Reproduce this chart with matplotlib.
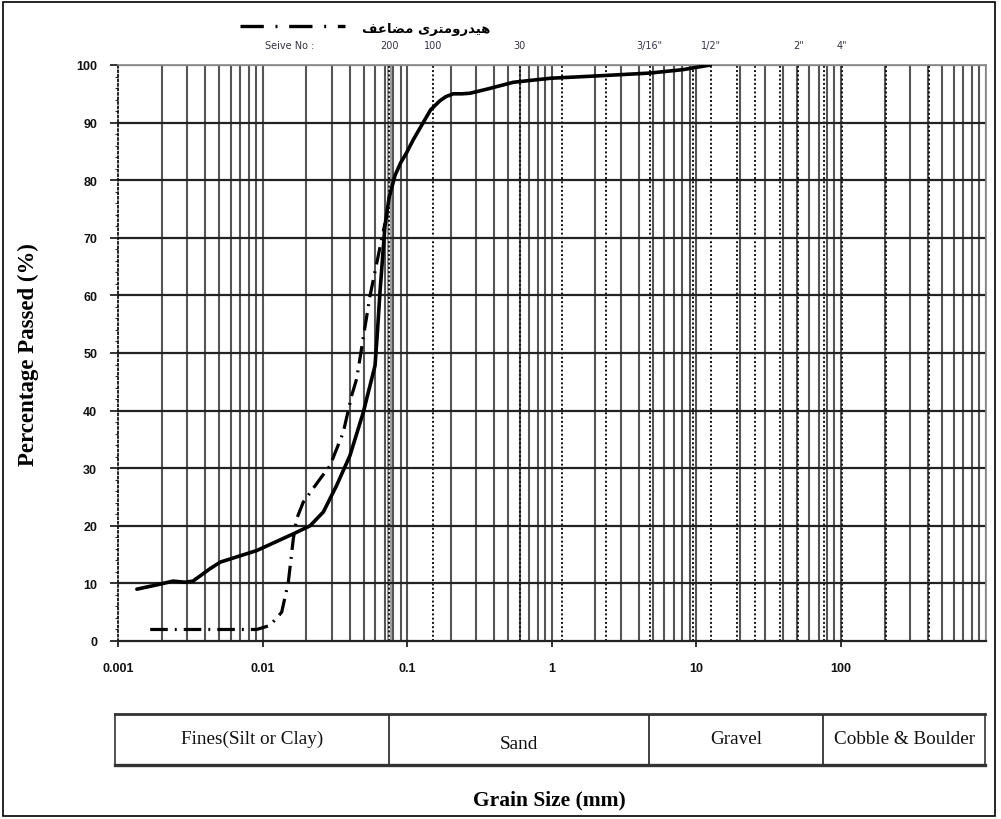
import numpy as np
import matplotlib
matplotlib.use("Agg")
import matplotlib.pyplot as plt
from matplotlib.patches import Rectangle
from matplotlib.lines import Line2D
from matplotlib.ticker import FixedLocator, NullFormatter, MultipleLocator

# --- data -------------------------------------------------------------
# combined sieve + hydrometer curve (grain size mm, percent passing)
grain_size = [0.00135, 0.0019, 0.0024, 0.0029, 0.0033, 0.0043, 0.0051, 0.0091,
              0.0163, 0.0213, 0.0263, 0.0325, 0.0402, 0.0497, 0.0568, 0.0599,
              0.062, 0.0648, 0.0702, 0.075, 0.0823, 0.09, 0.0992, 0.11, 0.129,
              0.145, 0.1685, 0.185, 0.208, 0.24, 0.272, 0.355, 0.542, 0.98,
              2.04, 4.77, 8.1, 12.5]
percent_passed = [9.0, 9.8, 10.4, 10.2, 10.4, 12.5, 13.7, 15.7,
                  18.6, 20.0, 22.4, 27.0, 32.2, 39.7, 45.5, 47.8,
                  53.0, 60.5, 72.1, 77.0, 80.8, 83.0, 84.8, 87.0, 90.0,
                  92.2, 93.8, 94.5, 95.0, 95.0, 95.1, 95.8, 97.0, 97.7,
                  98.1, 98.6, 99.2, 100.0]

# double hydrometer curve
hydro_size = [0.00167, 0.0091, 0.01125, 0.01355, 0.01506, 0.0163, 0.0172,
              0.0191, 0.0249, 0.0292, 0.0361, 0.0413, 0.0447, 0.0553,
              0.0666, 0.0702]
hydro_passed = [2.0, 2.0, 2.7, 5.0, 10.2, 17.7, 21.2,
                24.1, 28.1, 30.4, 36.2, 42.6, 45.5, 59.9,
                69.8, 72.5]

# standard sieve openings (mm) drawn as dotted lines
sieve_openings = [0.075, 0.15, 0.6, 1.18, 2.36, 4.75, 9.5, 12.7, 19.0, 25.4,
                  38.1, 50.8, 76.2, 101.6, 203.2, 406.4]
sieve_labels = ["200", "100", "30", '3/16"', '1/2"', '2"', '4"']
sieve_label_pos = [0.075, 0.15, 0.6, 4.75, 12.7, 50.8, 101.6]

x_ticks = [0.001, 0.01, 0.1, 1, 10, 100]
x_tick_labels = ["0.001", "0.01", "0.1", "1", "10", "100"]
y_ticks = list(range(0, 101, 10))

soil_classes = ["Fines(Silt or Clay)", "Sand", "Gravel", "Cobble & Boulder"]
class_bounds = [0.00095, 0.075, 4.75, 76.2, 1000]

# Persian caption written with presentation forms in display order,
# since matplotlib performs no Arabic shaping
legend_label = "\ufed2\ufecb\ufe8e\ufec0\ufee3 \ufeef\ufeae\ufe98\ufee3\ufeed\ufead\ufeaa\ufef4\ufeeb"

# --- figure -----------------------------------------------------------
W, H = 1001, 820
fig = plt.figure(figsize=(W / 100, H / 100), dpi=100)
fig.patch.set_facecolor("white")


def fx(px):
    return px / W


def fy(py):
    return 1 - py / H


ax = fig.add_axes([fx(118), fy(642), fx(985.6) - fx(118), fy(66) - fy(642)])
ax.set_xscale("log")
ax.set_xlim(0.001, 1000)
ax.set_ylim(0, 100)

# vertical grid: every 1..9 x 10^k
grid_x = [n * 10.0 ** k for k in range(-3, 3) for n in range(1, 10)] + [1000]
for gx in grid_x[1:]:
    ax.axvline(gx, color="#555555", lw=1.5, zorder=1)
for sx in sieve_openings:
    ax.axvline(sx, color="#111111", lw=1.4, ls=(0, (1.0, 1.2)), zorder=2)
ax.axvline(0.074, color="#9a9a9a", lw=1.4, zorder=1)
ax.axvline(0.077, color="#9a9a9a", lw=1.4, zorder=1)

for gy in range(10, 100, 10):
    ax.axhline(gy, color="#222222", lw=1.6, zorder=2)
ax.axhline(100, color="#777777", lw=1.6, zorder=2)

# curves
ax.plot(hydro_size, hydro_passed, color="black", lw=2.3,
        ls=(0, (5.5, 2.2, 0.6, 2.2)), zorder=5, solid_capstyle="round")
ax.plot(grain_size, percent_passed, color="black", lw=2.6, zorder=6,
        solid_capstyle="round", solid_joinstyle="round")

# axes styling
for side in ["top", "right"]:
    ax.spines[side].set_color("#888888")
    ax.spines[side].set_linewidth(1.2)
ax.spines["bottom"].set_color("#222222")
ax.spines["bottom"].set_linewidth(1.6)
ax.spines["left"].set_linestyle((0, (1, 1.5)))
ax.spines["left"].set_linewidth(1.3)
ax.spines["left"].set_color("#111111")

ax.xaxis.set_major_locator(FixedLocator(x_ticks))
ax.set_xticklabels(x_tick_labels)
ax.xaxis.set_minor_locator(FixedLocator([]))
ax.xaxis.set_minor_formatter(NullFormatter())
ax.set_yticks(y_ticks)
ax.yaxis.set_minor_locator(MultipleLocator(2))
ax.tick_params(axis="x", which="major", length=4, width=1.2, pad=11,
               labelsize=9, colors="#111111")
ax.tick_params(axis="y", which="major", length=6, width=1.2, pad=9,
               labelsize=9, colors="#111111")
ax.tick_params(axis="y", which="minor", length=2, width=0.8, colors="#333333")
for lab in ax.get_xticklabels() + ax.get_yticklabels():
    lab.set_fontweight("bold")
    lab.set_family("Liberation Sans")

fig.text(fx(28), fy(355), "Percentage Passed (%)", family="Liberation Serif",
         fontweight="bold", fontsize=16.5, rotation=90, ha="center", va="center")

# sieve numbers along the top
trans_top = ax.get_xaxis_transform()
fig.text(fx(290), fy(46), "Seive No :", fontsize=7, color="#333344",
         family="Liberation Sans Narrow", ha="center", va="center")
for lab, pos in zip(sieve_labels, sieve_label_pos):
    ax.text(pos, 1.034, lab, transform=trans_top, fontsize=7, color="#333344",
            family="Liberation Sans Narrow", ha="center", va="center")

# legend entry at the top
fig.add_artist(Line2D([fx(240), fx(345)], [fy(27), fy(27)], color="black",
                      lw=2.4, ls=(0, (7, 3.5, 0.6, 3.5))))
fig.text(fx(426), fy(29), legend_label, family=["DejaVu Sans"],
         fontweight="bold", fontsize=9.5, ha="center", va="center")

# soil classification strip
tab = fig.add_axes([fx(115), fy(766), fx(985) - fx(115), fy(715) - fy(766)])
tab.set_xscale("log")
tab.set_xlim(class_bounds[0], class_bounds[-1])
tab.set_ylim(0, 1)
tab.set_xticks([])
tab.set_yticks([])
tab.xaxis.set_minor_locator(FixedLocator([]))
for s in tab.spines.values():
    s.set_color("#333333")
    s.set_linewidth(1.2)
tab.spines["top"].set_linewidth(2.0)
tab.spines["bottom"].set_linewidth(2.4)
for b in class_bounds[1:-1]:
    tab.axvline(b, color="#333333", lw=1.3)
for i, name in enumerate(soil_classes):
    xc = np.sqrt(class_bounds[i] * class_bounds[i + 1])
    yc = 0.42 if name == "Sand" else 0.52
    tab.text(xc, yc, name, family="Liberation Serif", fontsize=13.8,
             ha="center", va="center", color="#111111")

fig.text(fx(549), fy(800), "Grain Size (mm)", family="Liberation Serif",
         fontweight="bold", fontsize=15.5, ha="center", va="center")

# outer frame
fig.add_artist(Rectangle((fx(3), fy(817)), fx(995) - fx(3), fy(3) - fy(817),
                         transform=fig.transFigure, fill=False, ec="black", lw=1.2))

fig.savefig("out.png", dpi=100, facecolor="white")
